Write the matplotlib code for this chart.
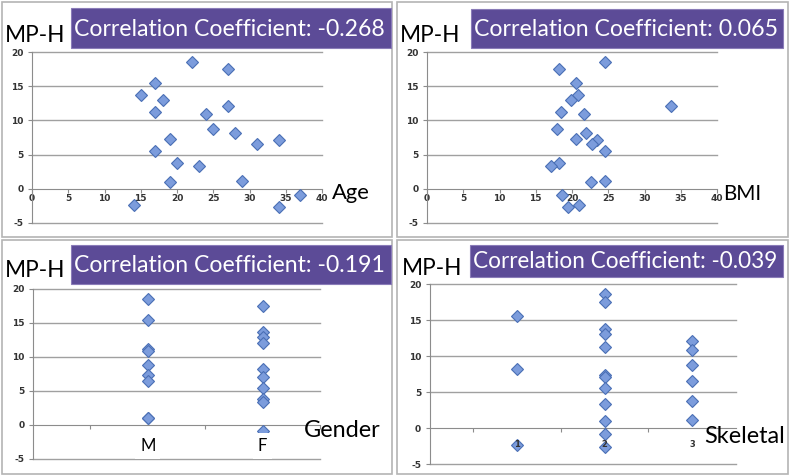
import matplotlib
matplotlib.use("Agg")
import matplotlib.pyplot as plt
from matplotlib.patches import Rectangle

# data (MP-H against four variables)
mph = [18.6, 17.5, 15.5, 13.7, 13.0, 12.1, 11.2, 10.9, 8.8, 8.2, 7.3,
       7.1, 6.5, 5.5, 3.8, 3.4, 1.0, 1.1, -0.9, -2.4, -2.7]
age = [22, 27, 17, 15, 18, 27, 17, 24, 25, 28, 19,
       34, 31, 17, 20, 23, 19, 29, 37, 14, 34]
bmi = [24.5, 18.2, 20.5, 20.8, 19.9, 33.7, 18.5, 21.7, 17.9, 21.9, 20.6,
       23.4, 22.7, 24.5, 18.2, 17.1, 22.6, 24.5, 18.6, 20.9, 19.5]
gender = ['M', 'F', 'M', 'F', 'F', 'F', 'M', 'M', 'M', 'F', 'M',
          'F', 'M', 'F', 'F', 'F', 'M', 'M', 'F', 'M', 'F']
skeletal = [2, 2, 1, 2, 2, 3, 2, 3, 3, 1, 2,
            2, 3, 2, 3, 2, 2, 3, 2, 1, 2]
gender_cats = ['M', 'F']
skeletal_cats = [1, 2, 3]
coefs = ['-0.268', '0.065', '-0.191', '-0.039']
xnames = ['Age', 'BMI', 'Gender', 'Skeletal']

W, H = 790, 476
fig = plt.figure(figsize=(W / 100, H / 100), dpi=100)
fig.patch.set_facecolor('white')
renderer = fig.canvas.get_renderer()

purple = '#5c4b97'
mfill = '#7c9cdc'
medge = '#4a6fb5'
grid_c = '#a0a0a0'
axis_c = '#8c8c8c'
tick_font = dict(fontsize=6.5, fontweight='bold', color='#333333', family='DejaVu Sans')
big_font = 'Lato'


def fx(x):
    return x / W


def fy(y):
    return 1 - y / H


def fit(t, width):
    # shrink/grow text so it spans width pixels
    bb = t.get_window_extent(renderer)
    t.set_fontsize(t.get_fontsize() * width / bb.width)


def panel(x0, y0, x1, y1, box, mph_left, mph_base, lab_left, lab_base, coef, name, plot):
    fig.patches.append(Rectangle((fx(x0), fy(y1)), fx(x1 - x0), (y1 - y0) / H,
                                 transform=fig.transFigure, fill=False,
                                 ec='#b4b4b4', lw=1.2))
    bx0, by0, bx1, by1 = box
    fig.patches.append(Rectangle((fx(bx0), fy(by1)), fx(bx1 - bx0), (by1 - by0) / H,
                                 transform=fig.transFigure, fc=purple,
                                 ec='#8a7cb8', lw=0.8))
    t = fig.text(fx(bx0 + 3), fy((by0 + by1) / 2 + 1), 'Correlation Coefficient: ' + coef,
                 color='white', fontsize=16, family=big_font, va='center', ha='left')
    fit(t, bx1 - bx0 - 8)
    t = fig.text(fx(mph_left), fy(mph_base), 'MP-H', fontsize=16, family=big_font,
                 va='baseline', ha='left')
    fit(t, 60)
    t = fig.text(fx(lab_left), fy(lab_base), name, fontsize=14, family=big_font,
                 va='baseline', ha='left', zorder=5)
    fit(t, {'Age': 38, 'BMI': 38, 'Gender': 77, 'Skeletal': 81}[name])
    ax_l, ax_r, ax_t, ax_b = plot
    ax = fig.add_axes([fx(ax_l), fy(ax_b), fx(ax_r - ax_l), (ax_b - ax_t) / H])
    ax.set_ylim(-5, 20)
    ax.set_yticks([-5, 0, 5, 10, 15, 20])
    ax.set_yticklabels(['-5', '0', '5', '10', '15', '20'], **tick_font)
    for s in ['top', 'right']:
        ax.spines[s].set_visible(False)
    ax.spines['left'].set_color(axis_c)
    ax.spines['bottom'].set_color(axis_c)
    ax.spines['bottom'].set_position(('data', 0))
    ax.tick_params(axis='y', length=3, color=axis_c, pad=3)
    ax.tick_params(axis='x', length=3, color=axis_c, pad=1)
    for v in [-5, 5, 10, 15, 20]:
        ax.axhline(v, color=grid_c, lw=1, zorder=1, clip_on=False)
    ax.patch.set_alpha(0)
    return ax


def dots(ax, xs, ys):
    ax.plot(xs, ys, 'D', ms=6.2, mfc=mfill, mec=medge, mew=0.8, zorder=3, clip_on=False)


# Age
ax = panel(2, 2, 392, 237, (71, 8, 391, 48), 5, 42, 332, 199, coefs[0], xnames[0],
           (32, 322, 52, 223))
ax.set_xlim(0, 40)
ax.set_xticks(range(0, 41, 5))
ax.set_xticklabels([str(v) for v in range(0, 41, 5)], **tick_font)
dots(ax, age, mph)

# BMI
ax = panel(397, 2, 788, 237, (471, 9, 783, 48), 400, 42, 723, 200, coefs[1], xnames[1],
           (427, 717, 52, 223))
ax.set_xlim(0, 40)
ax.set_xticks(range(0, 41, 5))
ax.set_xticklabels([str(v) for v in range(0, 41, 5)], **tick_font)
dots(ax, bmi, mph)

# Gender
ax = panel(2, 240, 392, 474, (71, 245, 391, 284), 5, 277, 304, 437, coefs[2], xnames[2],
           (33, 320, 289, 459))
ax.set_xlim(0, 2.5)
ax.set_xticks([0.5, 1.5, 2.5])
ax.set_xticklabels([])
gx = [gender_cats.index(g) + 1 for g in gender]
dots(ax, gx, mph)
for i, c in enumerate(gender_cats):
    ax.text(i + 1, -1.9, c, fontsize=12, family=big_font, ha='center', va='top',
            zorder=6, bbox=dict(fc='white', ec='none', pad=3.5))

# Skeletal
ax = panel(397, 240, 788, 474, (470, 245, 783, 277), 402, 275, 704, 443, coefs[3], xnames[3],
           (429.5, 736, 284, 464))
ax.set_xlim(0, 3.5)
ax.set_xticks([0.5, 1.5, 2.5])
ax.set_xticklabels([])
dots(ax, skeletal, mph)
for c in skeletal_cats:
    ax.text(c, -2.3, str(c), fontsize=6, fontweight='bold', color='#333333',
            ha='center', va='center', zorder=6)

fig.savefig('out.png', dpi=100)
